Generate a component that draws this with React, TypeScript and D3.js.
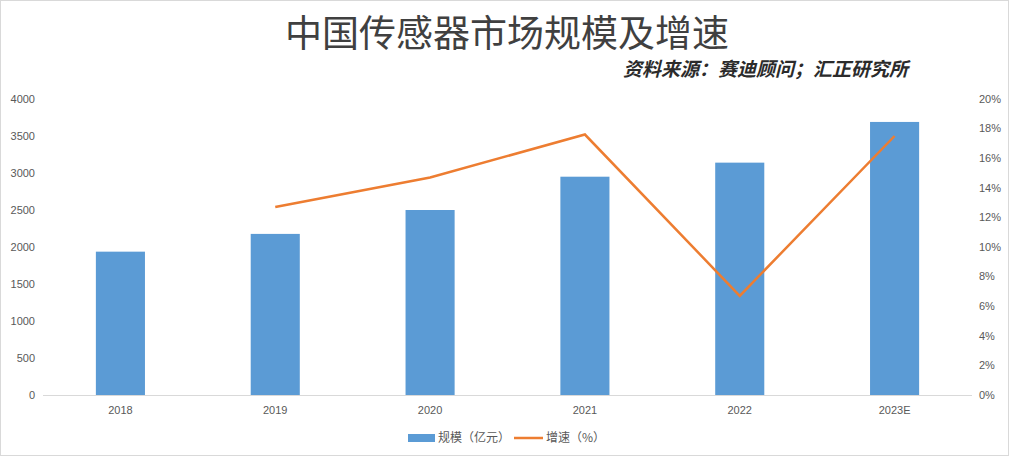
import React from "react";
import * as d3 from "d3";

const categories = ["2018", "2019", "2020", "2021", "2022", "2023E"];
const scaleValues = [1937, 2177, 2500, 2950, 3140, 3690];
const growthCategories = ["2019", "2020", "2021", "2022", "2023E"];
const growthValues = [12.7, 14.7, 17.6, 6.7, 17.5];
const leftTicks = [0, 500, 1000, 1500, 2000, 2500, 3000, 3500, 4000];
const rightTicks = [0, 2, 4, 6, 8, 10, 12, 14, 16, 18, 20];
const title = "中国传感器市场规模及增速";
const source = "资料来源：赛迪顾问；汇正研究所";
const legendBar = "规模（亿元）";
const legendLine = "增速（%）";

const W = 1011;
const H = 458;
const m = { left: 43, right: 972, top: 99, bottom: 395 };
const BLUE = "#5b9bd5";
const ORANGE = "#ed7d31";
const LABEL = "#595959";
const FONT = "'Liberation Sans', 'Noto Sans', sans-serif";
const CJK = "'Noto Sans CJK SC', sans-serif";

export default function App() {
  const x = d3.scaleBand<string>().domain(categories).range([m.left, m.right]).paddingInner(0.683).paddingOuter(0.3415);
  const yL = d3.scaleLinear().domain([0, 4000]).range([m.bottom, m.top]);
  const yR = d3.scaleLinear().domain([0, 20]).range([m.bottom, m.top]);
  const cx = (c: string) => (x(c) as number) + x.bandwidth() / 2;
  const line = d3
    .line<number>()
    .x((_, i) => cx(growthCategories[i]))
    .y((d) => yR(d));

  return (
    <div style={{ position: "fixed", left: 0, top: 0 }}>
      <svg width={W} height={H} style={{ display: "block", background: "#fff" }}>
        <rect x={0.5} y={0.5} width={1008} height={455} fill="#fff" stroke="#d9d9d9" strokeWidth={1} />
        <text x={507} y={47} textAnchor="middle" fontFamily={CJK} fontSize={37} fill="#404040">
          {title}
        </text>
        <text x={908} y={76} textAnchor="end" fontFamily={CJK} fontSize={19} fontWeight="bold" fontStyle="italic" fill="#2b2b2b">
          {source}
        </text>
        {leftTicks.map((t) => (
          <text key={"l" + t} x={35} y={yL(t)} dy="0.35em" textAnchor="end" fontFamily={FONT} fontSize={11} fill={LABEL}>
            {t}
          </text>
        ))}
        {rightTicks.map((t) => (
          <text key={"r" + t} x={979} y={yR(t)} dy="0.35em" textAnchor="start" fontFamily={FONT} fontSize={11} fill={LABEL}>
            {t + "%"}
          </text>
        ))}
        {categories.map((c, i) => (
          <rect key={c} x={x(c)} y={yL(scaleValues[i])} width={x.bandwidth()} height={m.bottom - yL(scaleValues[i])} fill={BLUE} />
        ))}
        <line x1={m.left} x2={m.right} y1={m.bottom + 0.5} y2={m.bottom + 0.5} stroke="#d9d9d9" strokeWidth={1} />
        {categories.map((c) => (
          <text key={"x" + c} x={cx(c)} y={414} textAnchor="middle" fontFamily={FONT} fontSize={11} fill={LABEL}>
            {c}
          </text>
        ))}
        <path d={line(growthValues) || ""} fill="none" stroke={ORANGE} strokeWidth={2.5} strokeLinejoin="miter" strokeLinecap="butt" />
        <rect x={408} y={434} width={27} height={8} fill={BLUE} />
        <text x={438} y={438} dy="0.35em" fontFamily={CJK} fontSize={12} fill={LABEL}>
          {legendBar}
        </text>
        <line x1={514} x2={543} y1={438} y2={438} stroke={ORANGE} strokeWidth={2.5} />
        <text x={546} y={438} dy="0.35em" fontFamily={CJK} fontSize={12} fill={LABEL}>
          {legendLine}
        </text>
      </svg>
    </div>
  );
}
